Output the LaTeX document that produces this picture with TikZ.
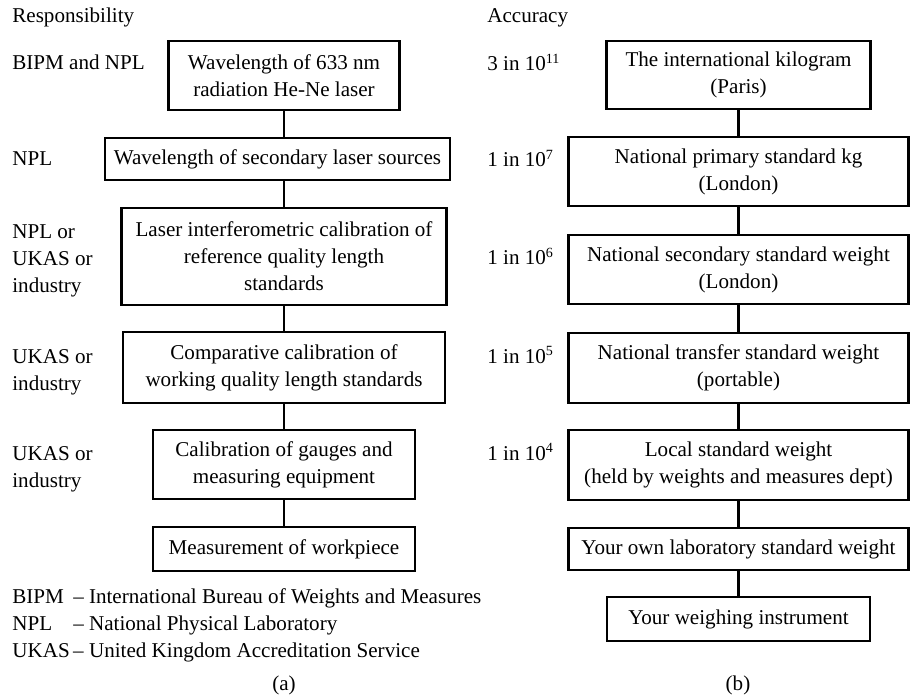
\documentclass[tikz,border=0pt]{standalone}
\usepackage{fontspec}
\setmainfont{Liberation Serif}
\usetikzlibrary{positioning}
\tikzset{
  part/.style  = {rectangle, draw, line width=1.3pt, inner sep=0pt,
                  align=center},
  link/.style  = {line width=1.3pt},
  note/.style  = {anchor=base west, align=left, inner sep=0pt}
}

\begin{document}
\begin{tikzpicture}[x=0.02cm, y=-0.02cm,
    every node/.append style={font=\fontsize{12}{15.4}\selectfont}]
  \useasboundingbox (0,0) rectangle (910,699);

  % (a) length
  \node (hdra) [note] at (12,23) {Responsibility};
  \node (laser) [part, minimum width=4.62cm, minimum height=1.38cm] at (284,75.5)
        {Wavelength of 633 nm\\radiation He-Ne laser};
  \node (second) [part, minimum width=6.9cm, minimum height=0.84cm] at (277.5,159)
        {Wavelength of secondary laser sources};
  \node (interf) [part, minimum width=6.5cm, minimum height=1.94cm] at (284,256.5)
        {Laser interferometric calibration of\\reference quality length\\standards};
  \node (compar) [part, minimum width=6.44cm, minimum height=1.42cm] at (284,367.5)
        {Comparative calibration of\\working quality length standards};
  \node (gauges) [part, minimum width=5.24cm, minimum height=1.38cm] at (284,464.5)
        {Calibration of gauges and\\measuring equipment};
  \node (workp) [part, minimum width=5.24cm, minimum height=0.88cm] at (284,549)
        {Measurement of workpiece};

  % base of a multi-line note is its last line
  \node (ra) [note] at (12,70)  {BIPM and NPL};
  \node (rb) [note] at (12,166) {NPL};
  \node (rc) [note] at (12,292.5) {NPL or\\UKAS or\\industry};
  \node (rd) [note] at (12,390.5) {UKAS or\\industry};
  \node (re) [note] at (12,487.5) {UKAS or\\industry};

  \draw[link] (laser.south)  -- (laser.south |- second.north);
  \draw[link] (interf.north |- second.south) -- (interf.north);
  \draw[link] (interf.south) -- (compar.north);
  \draw[link] (compar.south) -- (gauges.north);
  \draw[link] (gauges.south) -- (workp.north);

  % legend
  \node (legend) [note] at (12,603)
        {\begin{tabular}[t]{@{}l@{\,}l@{}}
          BIPM & -- International Bureau of Weights and Measures\\
          NPL  & -- National Physical Laboratory\\
          UKAS & -- United Kingdom Accreditation Service
         \end{tabular}};
  \node (capa) [anchor=base] at (284,690) {(a)};

  % (b) mass
  \node (hdrb) [note] at (487,23) {Accuracy};
  \node (kilo) [part, minimum width=5.28cm, minimum height=1.36cm] at (738.5,75)
        {The international kilogram\\(Paris)};
  \node (prim) [part, minimum width=6.8cm, minimum height=1.38cm] at (738.5,171.5)
        {National primary standard kg\\(London)};
  \node (secw) [part, minimum width=6.8cm, minimum height=1.38cm] at (738.5,269.5)
        {National secondary standard weight\\(London)};
  \node (trans) [part, minimum width=6.8cm, minimum height=1.4cm] at (738.5,368)
        {National transfer standard weight\\(portable)};
  \node (local) [part, minimum width=6.8cm, minimum height=1.4cm] at (738.5,465)
        {Local standard weight\\(held by weights and measures dept)};
  \node (labw) [part, minimum width=6.8cm, minimum height=0.84cm] at (738.5,549)
        {Your own laboratory standard weight};
  \node (instr) [part, minimum width=5.26cm, minimum height=0.88cm] at (738.5,619)
        {Your weighing instrument};

  \node (aa) [note] at (487,71)  {3 in 10\textsuperscript{11}};
  \node (ab) [note] at (487,167) {1 in 10\textsuperscript{7}};
  \node (ac) [note] at (487,265) {1 in 10\textsuperscript{6}};
  \node (ad) [note] at (487,363) {1 in 10\textsuperscript{5}};
  \node (ae) [note] at (487,460) {1 in 10\textsuperscript{4}};

  \draw[link] (kilo.south)  -- (prim.north);
  \draw[link] (prim.south)  -- (secw.north);
  \draw[link] (secw.south)  -- (trans.north);
  \draw[link] (trans.south) -- (local.north);
  \draw[link] (local.south) -- (labw.north);
  \draw[link] (labw.south)  -- (instr.north);

  \node (capb) [anchor=base] at (738,690) {(b)};
\end{tikzpicture}
\end{document}
